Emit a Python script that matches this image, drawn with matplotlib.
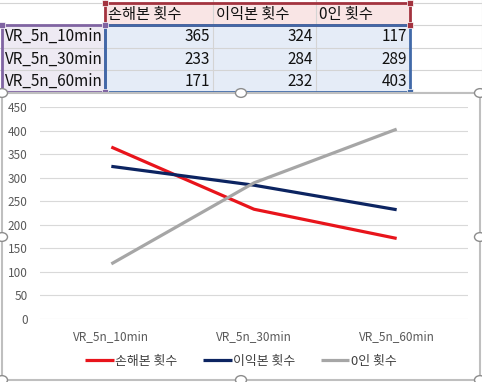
import matplotlib
matplotlib.use("Agg")
import matplotlib.pyplot as plt
from matplotlib.patches import Rectangle, Circle

plt.rcParams['font.family'] = ['Noto Sans CJK KR', 'DejaVu Sans']

categories = ['VR_5n_10min', 'VR_5n_30min', 'VR_5n_60min']
series_names = ['손해본 횟수', '이익본 횟수', '0인 횟수']
loss = [365, 233, 171]
gain = [324, 284, 232]
zero = [117, 289, 403]
colors = ['#E8141B', '#0C2461', '#A6A6A6']

W, H = 482, 382
fig = plt.figure(figsize=(W / 100, H / 100), dpi=100)


def fx(x):
    return x / W


def fy(y):
    return 1 - y / H


def rect(x0, y0, x1, y1, z=1, **kw):
    fig.add_artist(Rectangle((fx(x0), fy(y1)), fx(x1) - fx(x0), fy(y0) - fy(y1),
                             transform=fig.transFigure, zorder=z, **kw))


def line(xs, ys, **kw):
    fig.add_artist(plt.Line2D([fx(x) for x in xs], [fy(y) for y in ys],
                              transform=fig.transFigure, **kw))


# spreadsheet cells
col_x = [0, 105, 213, 316, 410, 482]
row_y = [3, 25, 48, 70, 92]
rect(105, 3, 410, 25, z=-2, facecolor='#F9E5E5', edgecolor='none')
rect(2, 25, 105, 92, z=-2, facecolor='#EEEAF3', edgecolor='none')
rect(105, 25, 410, 92, z=-2, facecolor='#E5ECF7', edgecolor='none')
for y in row_y:
    line([0, W], [y, y], color='#D4D4D4', lw=0.8, zorder=-2)
for x in col_x[1:]:
    line([x, x], [0, 94], color='#D4D4D4', lw=0.8, zorder=-2)

rect(105, 3, 410, 25, z=-1, facecolor='none', edgecolor='#A3333F', lw=2)
rect(2, 25, 105, 92, z=-1, facecolor='none', edgecolor='#8064A2', lw=2)
rect(105, 25, 410, 92, z=-1, facecolor='none', edgecolor='#4169A8', lw=2)
for (x, y, c) in [(105, 3, '#A3333F'), (410, 3, '#A3333F'), (410, 25, '#A3333F'),
                  (2, 25, '#8064A2'), (105, 25, '#8064A2'), (105, 92, '#8064A2'),
                  (410, 92, '#4169A8')]:
    rect(x - 3, y - 3, x + 3, y + 3, z=-1, facecolor=c, edgecolor='white', lw=0.5)

for j, name in enumerate(series_names):
    fig.text(fx(col_x[j + 1] + 3), fy(14), name, fontsize=11, va='center', ha='left',
             color='#111111')
for i, cat in enumerate(categories):
    yc = (row_y[i + 1] + row_y[i + 2]) / 2
    fig.text(fx(5), fy(yc), cat, fontsize=11, va='center', ha='left', color='#111111')
    for j, vals in enumerate([loss, gain, zero]):
        fig.text(fx(col_x[j + 2] - 3), fy(yc), str(vals[i]), fontsize=11,
                 va='center', ha='right', color='#111111')

# chart area (behind the axes)
rect(2, 93, 480, 380, z=-0.5, facecolor='white', edgecolor='#BFBFBF', lw=1.5)

ax = fig.add_axes([fx(40), fy(319), fx(468) - fx(40), fy(107) - fy(319)])
ax.patch.set_alpha(0)
xs = range(len(categories))
for vals, name, c in zip([loss, gain, zero], series_names, colors):
    ax.plot(xs, vals, color=c, lw=2.3, label=name, solid_joinstyle='round',
            solid_capstyle='butt')
ax.set_xlim(-0.5, 2.5)
ax.set_ylim(0, 450)
ax.set_yticks(range(0, 451, 50))
ax.set_xticks(list(xs))
ax.set_xticklabels(categories)
ax.grid(axis='y', color='#D9D9D9', lw=0.8)
ax.set_axisbelow(True)
for s in ax.spines.values():
    s.set_visible(False)
ax.tick_params(length=0, labelsize=8.5, colors='#595959')
ax.tick_params(axis='y', pad=9)
ax.tick_params(axis='x', pad=8)
ax.legend(loc='center', bbox_to_anchor=(0.5, fy(361)), bbox_transform=fig.transFigure,
          ncol=3, frameon=False, fontsize=9.3, handlelength=2.2, handletextpad=0.1,
          columnspacing=2.0, labelcolor='#404040')

# selection handles
for (x, y) in [(2, 93), (241, 93), (480, 93), (2, 237), (480, 237),
               (2, 380), (241, 380), (480, 380)]:
    fig.add_artist(Circle((fx(x), fy(y)), 5.5 / W, transform=fig.transFigure,
                          facecolor='white', edgecolor='#8C8C8C', lw=1.0, zorder=10))

fig.savefig('out.png', dpi=100)
